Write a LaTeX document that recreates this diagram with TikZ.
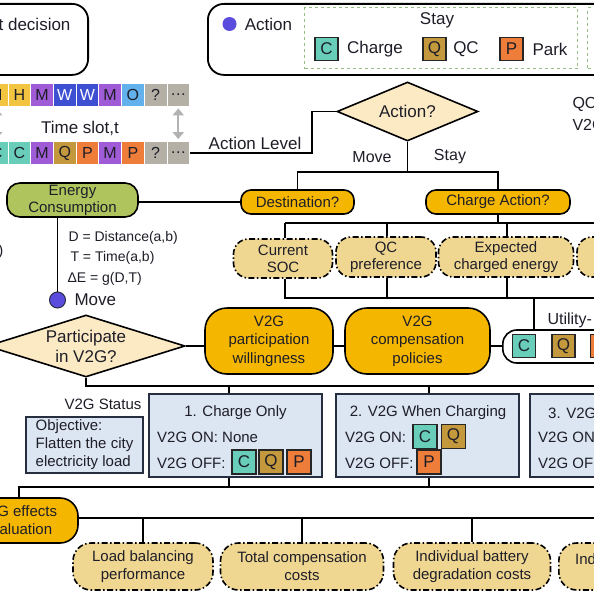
\documentclass[tikz,border=0pt]{standalone}
\usepackage{fontspec}
\setmainfont{Liberation Sans}
\usetikzlibrary{shapes.geometric,arrows.meta,calc}
\definecolor{amberc}{RGB}{245,182,0}
\definecolor{greenc}{RGB}{176,196,94}
\definecolor{creamc}{RGB}{252,234,196}
\definecolor{tanc}{RGB}{240,215,145}
\definecolor{lbluec}{RGB}{220,230,242}
\definecolor{navyc}{RGB}{38,46,64}
\definecolor{cC}{RGB}{104,206,186}
\definecolor{cQ}{RGB}{196,152,60}
\definecolor{cP}{RGB}{238,125,58}
\definecolor{cM}{RGB}{160,92,214}
\definecolor{cW}{RGB}{62,80,210}
\definecolor{cO}{RGB}{98,176,236}
\definecolor{cG}{RGB}{180,176,166}
\definecolor{cH}{RGB}{242,196,64}
\definecolor{dotc}{RGB}{92,76,222}
\definecolor{dgreen}{RGB}{150,190,130}
\definecolor{txt}{RGB}{30,30,40}
\tikzset{
 conn/.style={line width=1.6pt, draw=black},
 f14/.style={font=\fontsize{14}{17}\selectfont},
 f15/.style={font=\fontsize{15}{18}\selectfont},
 f16/.style={font=\fontsize{16}{19}\selectfont},
 f17/.style={font=\fontsize{17}{20}\selectfont},
 lbl/.style={f15, text=txt, inner sep=0},
 frame/.style={draw, line width=1.8pt, rounded corners=16pt, inner sep=0},
 amberbox/.style={draw, line width=1.6pt, fill=amberc, align=center, f15, text=txt, inner sep=0},
 tanbox/.style={draw, line width=1.6pt, fill=tanc, align=center, f15, text=txt, inner sep=0, rounded corners=15pt, dash pattern=on 6pt off 2.5pt on 1.5pt off 2.5pt},
 diam/.style={diamond, draw, line width=1.6pt, fill=creamc, inner sep=0},
 statbox/.style={draw=navyc, line width=1.6pt, fill=lbluec, inner sep=0},
 sq/.style={draw=black!85, line width=1.3pt, minimum size=23pt, inner sep=0, f17, text=txt},
 cell/.style={draw=white, line width=0.8pt, minimum width=22.7pt, minimum height=23pt, inner sep=0, f16},
 garrow/.style={draw=black!30, line width=2.4pt, {Triangle[length=7pt,width=11pt]}-{Triangle[length=7pt,width=11pt]}, shorten <=2pt, shorten >=2pt},
}
\begin{document}
\begin{tikzpicture}[x=1pt,y=-1pt]
\useasboundingbox (0,0) rectangle (594,594);
\clip (0,0) rectangle (594,594);
\fill[white] (0,0) rectangle (594,594);

% top boxes
\node[frame, minimum width=130pt, minimum height=71pt, anchor=north east] (tlbox) at (89,3) {};
\node[f17, text=txt, anchor=east] (tltext) at (74,24) {t decision};
\node[frame, minimum width=450pt, minimum height=71pt, anchor=north west] (trbox) at (207,3) {};
\node[circle, fill=dotc, minimum size=14pt, inner sep=0] (adot) at (229.5,24) {};
\node[f17, text=txt] (atext) at (268.5,24) {Action};
\node[draw=dgreen, dashed, line width=1.2pt, minimum width=273pt, minimum height=61pt, anchor=north west, inner sep=0] (staybox) at (304,7) {};
\node[draw=dgreen, dashed, line width=1.2pt, minimum width=100pt, minimum height=61pt, anchor=north west, inner sep=0] (movebox) at (587,7) {};
\node[f17, text=txt] (staytxt) at (437,20) {Stay};
\node[sq, fill=cC] (lC) at (326.5,49) {C};
\node[f17, text=txt] (lCt) at (375,49) {Charge};
\node[sq, fill=cQ] (lQ) at (434.5,49) {Q};
\node[f17, text=txt] (lQt) at (466,49) {QC};
\node[sq, fill=cP] (lP) at (511.5,49) {P};
\node[f17, text=txt] (lPt) at (550,49) {Park};

% time slots
\foreach \i/\l/\c/\tc in {0/H/cH/txt,1/H/cH/txt,2/M/cM/txt,3/W/cW/white,4/W/cW/white,5/M/cM/txt,6/O/cO/txt,7/?/cG/txt,8/…/cG/txt}
  \node[cell, fill=\c, text=\tc] (t\i) at ({-3.35+22.7*\i},94.5) {\l};
\foreach \i/\l/\c in {0/C/cC,1/C/cC,2/M/cM,3/Q/cQ,4/P/cP,5/M/cM,6/P/cP,7/?/cG,8/…/cG}
  \node[cell, fill=\c, text=txt] (b\i) at ({-3.35+22.7*\i},153) {\l};
\draw[garrow] (t8.south) -- (b8.north);
\draw[garrow] (t0.south) -- (b0.north);
\node[f17, text=txt] (ts) at (80,128) {Time slot,t};

% action diamond
\node[diam, minimum width=141pt, minimum height=59pt] (act) at (407.5,111.5) {};
\node[f17, text=txt] (acttxt) at (act.center) {Action?};
\draw[conn] (b8.east) -| ([xshift=-24pt]act.west) -- (act.west);
\node[f17, text=txt] (alevel) at (255,143) {Action Level};
\node[f16, text=txt] (mv) at (372,157) {Move};
\node[f16, text=txt] (st) at (450,157) {Stay};
\coordinate (split) at (407.5,172);
\node[amberbox, minimum width=113pt, minimum height=24pt, rounded corners=10pt] (dest) at (297.5,202) {Destination?};
\node[amberbox, minimum width=144pt, minimum height=24pt, rounded corners=10pt] (chg) at (498,202) {Charge Action?};
\draw[conn] (act.south) -- (split);
\draw[conn] (dest.north) |- (split) -| (chg.north);

% energy
\node[draw, line width=1.6pt, fill=greenc, rounded corners=13pt, minimum width=131pt, minimum height=34pt, align=center, font=\fontsize{15}{17}\selectfont, text=txt, inner sep=0] (energy) at (72.5,200) {Energy\\Consumption};
\draw[conn] (dest.west) -- (dest.west -| energy.east);
\node[circle, draw=navyc, line width=1pt, fill=dotc, minimum size=16pt, inner sep=0] (mdot) at (57.5,300) {};
\draw[conn] (mdot) -- (mdot |- energy.south);
\node[f17, text=txt, anchor=west] (mtxt) at (71,300) {Move};
\node[f14, text=txt, anchor=west] (eq1) at (65,238) {D = Distance(a,b)};
\node[f14, text=txt, anchor=west] (eq2) at (67,258) {T = Time(a,b)};
\node[f14, text=txt, anchor=west] (eq3) at (64,279) {ΔE = g(D,T)};
\node[f15, text=txt, anchor=east] (cpar) at (7,252) {c)};

% factor capsules
\coordinate (bus1L) at (285,223);
\coordinate (bus1R) at (600,223);
\node[tanbox, minimum width=99pt, minimum height=39pt, font=\fontsize{15}{17}\selectfont] (soc) at (283,258.5) {Current\\SOC};
\node[tanbox, minimum width=100pt, minimum height=40pt, font=\fontsize{15}{17}\selectfont] (qcp) at (386,257) {QC\\preference};
\node[tanbox, minimum width=135pt, minimum height=40pt, font=\fontsize{15}{17}\selectfont] (exp) at (506,257) {Expected\\charged energy};
\node[tanbox, minimum width=136pt, minimum height=40pt] (oth) at (645,257) {};
\draw[conn] (chg.south) -- (chg.south |- bus1L);
\draw[conn] (bus1L) -- (bus1R);
\draw[conn] (soc.north -| bus1L) -- (bus1L);
\draw[conn] ([xshift=1pt]qcp.north) -- ([xshift=1pt]qcp.north |- bus1L);
\draw[conn] ([xshift=1pt]exp.north) -- ([xshift=1pt]exp.north |- bus1L);
\coordinate (bus2L) at (285,298);
\coordinate (bus2R) at (600,298);
\draw[conn] (soc.south -| bus2L) -- (bus2L) -- (bus2R);
\draw[conn] ([xshift=1pt]qcp.south) -- ([xshift=1pt]qcp.south |- bus2L);
\draw[conn] ([xshift=1pt]exp.south) -- ([xshift=1pt]exp.south |- bus2L);

% V2G participation row
\node[diam, minimum width=198pt, minimum height=62pt] (part) at (86,346) {};
\node[text=txt, align=center, font=\fontsize{17}{20}\selectfont, inner sep=0] (parttxt) at (part.center) {Participate\\in V2G?};
\node[amberbox, minimum width=128pt, minimum height=66pt, rounded corners=22pt, font=\fontsize{15}{18.5}\selectfont] (vpart) at (269,341) {V2G\\participation\\willingness};
\node[amberbox, minimum width=145pt, minimum height=66pt, rounded corners=22pt, font=\fontsize{15}{18.5}\selectfont] (vcomp) at (417.5,341) {V2G\\compensation\\policies};
\node[draw, line width=1.6pt, fill=white, rounded corners=14pt, minimum width=210pt, minimum height=33pt, anchor=west, inner sep=0] (util) at (502,346.5) {};
\node[sq, fill=cC] (uC) at (524,346) {C};
\node[sq, fill=cQ] (uQ) at (563.5,346) {Q};
\node[sq, fill=cP] (uP) at (602,346) {P};
\node[f16, text=txt, anchor=west] (utxt) at (544,320) {Utility-};
\coordinate (ut) at (534,298);
\draw[conn] (ut) -- (ut |- util.north);
\draw[conn] (part.east) -- (part.east -| vpart.west);
\draw[conn] (vpart.east |- part.east) -- (vcomp.west |- part.east);
\draw[conn] (vcomp.east |- part.east) -- (util.west |- part.east);

% V2G status
\coordinate (bus3L) at (86,386);
\coordinate (bus3R) at (600,386);
\draw[conn] (part.south) -- (bus3L) -- (bus3R);
\node[lbl] (vst) at (103,404) {V2G Status};
\node[statbox, minimum width=117pt, minimum height=56pt, align=left, f15, text=txt] (obj) at (84.5,445) {Objective:\\Flatten the city\\electricity load};
\node[statbox, minimum width=173pt, minimum height=83pt] (s1) at (235.5,435.5) {};
\node[statbox, minimum width=183pt, minimum height=83pt] (s2) at (427.5,435.5) {};
\node[statbox, minimum width=180pt, minimum height=83pt, anchor=west] (s3) at (529,435.5) {};
\node[lbl] (s1t) at (235.5,413) {1. Charge Only};
\node[lbl, anchor=west] (s1a) at (157,437) {V2G ON: None};
\node[lbl, anchor=west] (s1b) at (157,463) {V2G OFF:};
\node[sq, minimum size=24pt, fill=cC] (s1C) at (244,462) {C};
\node[sq, minimum size=24pt, fill=cQ] (s1Q) at (271,462) {Q};
\node[sq, minimum size=24pt, fill=cP] (s1P) at (299,462) {P};
\node[lbl] (s2t) at (428,413) {2. V2G When Charging};
\node[lbl, anchor=west] (s2a) at (345,437) {V2G ON:};
\node[sq, minimum size=24pt, fill=cC] (s2C) at (425,436.5) {C};
\node[sq, minimum size=24pt, fill=cQ] (s2Q) at (453.5,436.5) {Q};
\node[lbl, anchor=west] (s2b) at (345,463) {V2G OFF:};
\node[sq, minimum size=24pt, fill=cP] (s2P) at (429,462) {P};
\node[lbl, anchor=west] (s3t) at (548,413) {3. V2G};
\node[lbl, anchor=west] (s3a) at (538,437) {V2G ON:};
\node[lbl, anchor=west] (s3b) at (538,463) {V2G OFF:};
\coordinate (d1t) at (229,386);
\coordinate (d2t) at (429,386);
\draw[conn] (d1t) -- (d1t |- s1.north);
\draw[conn] (d2t) -- (d2t |- s2.north);
\coordinate (bus4L) at (19,487);
\coordinate (bus4R) at (600,487);
\coordinate (d1b) at (229,487);
\coordinate (d2b) at (429,487);
\draw[conn] (d1b) -- (d1b |- s1.south);
\draw[conn] (d2b) -- (d2b |- s2.south);

% evaluation
\node[amberbox, minimum width=120pt, minimum height=45pt, rounded corners=18pt] (eff) at (18,520.5) {V2G effects\\evaluation};
\draw[conn] (eff.north -| bus4L) -- (bus4L) -- (bus4R);
\coordinate (bus5R) at (600,518);
\draw[conn] (eff.east |- bus5R) -- (bus5R);
\node[tanbox, minimum width=140pt, minimum height=47pt, rounded corners=18pt] (lb) at (143,566.5) {Load balancing\\performance};
\node[tanbox, minimum width=163pt, minimum height=47pt, rounded corners=18pt] (tc) at (302,566.5) {Total compensation\\costs};
\node[tanbox, minimum width=157pt, minimum height=47pt, rounded corners=18pt] (ib) at (472,566.5) {Individual battery\\degradation costs};
\node[tanbox, minimum width=150pt, minimum height=47pt, rounded corners=18pt, anchor=west] (ic) at (558,566.5) {};
\node[lbl, anchor=west] (ictxt) at (575,559) {Ind};
\draw[conn] (lb.north) -- (lb.north |- bus5R);
\draw[conn] (tc.north) -- (tc.north |- bus5R);
\draw[conn] (ib.north) -- (ib.north |- bus5R);

% cut-off texts at right
\node[f16, text=txt, anchor=west] (qcr) at (569,104) {QC};
\node[f16, text=txt, anchor=west] (v2r) at (569,125) {V2G};
\end{tikzpicture}
\end{document}
